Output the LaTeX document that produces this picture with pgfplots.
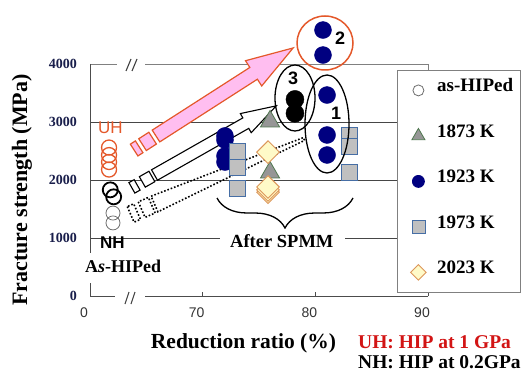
\documentclass[border=0pt]{standalone}
\usepackage{fontspec}
\setmainfont{Liberation Serif}
\setsansfont{Liberation Sans}
\usepackage{pgfplots}
\pgfplotsset{compat=1.18}
\usetikzlibrary{decorations.pathreplacing}

\definecolor{navy}{RGB}{0,0,128}
\definecolor{uhor}{RGB}{228,88,42}
\definecolor{pinkf}{RGB}{255,190,240}
\definecolor{trif}{RGB}{150,150,150}
\definecolor{trie}{RGB}{80,120,80}
\definecolor{sqf}{RGB}{192,192,192}
\definecolor{sqe}{RGB}{70,110,165}
\definecolor{dif}{RGB}{255,250,200}
\definecolor{die}{RGB}{220,150,90}
\definecolor{gcirc}{RGB}{110,110,110}
\definecolor{redtxt}{RGB}{210,20,20}
\definecolor{ytcol}{RGB}{25,30,75}
\definecolor{gridc}{RGB}{70,70,70}

\begin{document}
\begin{tikzpicture}
\path[use as bounding box] (0,0) rectangle (526pt,372pt);
% ---------- background: grid, frame, arrows (pixel frame) ----------
\begin{scope}[x=1pt,y=-1pt,yshift=372pt]
  \draw[gridc, line width=0.8pt] (90,122) -- (428,122);
  \draw[gridc, line width=0.8pt] (90,180) -- (428,180);
  \draw[gridc, line width=0.8pt] (90,238) -- (220,238) (345,238) -- (428,238);
  \draw[black!50, line width=0.8pt] (90,64) -- (117,64) (145,64) -- (428,64) -- (428,296);
  \draw[black!70, line width=0.9pt] (90,64) -- (90,253) (90,283) -- (90,296) -- (115,296) (145,296) -- (428,296);
  % break marks
  \draw[black!75, line width=1.1pt] (126,71) -- (131,59) (132,71) -- (137,59);
  \draw[black!75, line width=1.1pt] (125,304) -- (129,292) (131,304) -- (135,292);
  % pink striped arrow (UH)
  \begin{scope}[shift={(156,136)}, rotate=32.7]
    \draw[uhor, fill=pinkf, line width=1.2pt, line join=miter]
      (0,-7) -- (116,-7) -- (116,-15) -- (163,0) -- (116,15) -- (116,7) -- (0,7) -- cycle;
    \draw[uhor, fill=pinkf, line width=1.2pt] (-16,-7) rectangle (-4,7);
    \draw[uhor, fill=pinkf, line width=1.2pt] (-26,-7) rectangle (-20,7);
  \end{scope}
  % white striped arrow (NH)
  \begin{scope}[shift={(154.5,175)}, rotate=29.6]
    \draw[black, fill=white, line width=1.1pt, line join=miter]
      (0,-6) -- (105,-6) -- (105,-11) -- (140,0) -- (105,11) -- (105,6) -- (0,6) -- cycle;
    \draw[black, fill=white, line width=1.1pt] (-14,-6) rectangle (-3,6);
    \draw[black, fill=white, line width=1.1pt] (-26,-6) rectangle (-20,6);
  \end{scope}
  % dotted wedge
  \begin{scope}[shift={(154.5,204)}, rotate=23.5]
    \draw[black, line width=1.6pt, dash pattern=on 1.6pt off 1.9pt]
      (0,-8.5) -- (163,-1.5) -- (163,1.5) -- (0,8.5) -- cycle;
    \draw[black, line width=1.6pt, dash pattern=on 1.6pt off 1.9pt] (-14,-8.5) rectangle (-3,8.5);
    \draw[black, line width=1.6pt, dash pattern=on 1.6pt off 1.9pt] (-26,-8.5) rectangle (-19,8.5);
  \end{scope}
\end{scope}

% ---------- the axis with data ----------
\begin{axis}[
  at={(90pt,76pt)}, anchor=south west,
  scale only axis, width=338pt, height=232pt,
  xmin=60, xmax=90, ymin=0, ymax=4000,
  clip=false,
  axis line style={draw=none},
  tick align=inside,
  major tick length=4pt,
  xtick pos=left, ytick pos=left,
  xtick={60,70,80,90}, xticklabels={0,70,80,90},
  ytick={0,1000,2000,3000,4000},
  scaled y ticks=false,
  /pgf/number format/1000 sep={},
  /pgf/number format/assume math mode=true,
  x tick style={draw=black!70, line width=0.8pt},
  y tick style={draw=none},
  xticklabel style={font=\sffamily\fontsize{14}{14}\selectfont, text=black!80, inner sep=0pt, yshift=-12pt, xshift=-6pt},
  yticklabel style={font=\fontsize{14}{14}\selectfont\bfseries, text=ytcol, inner sep=0pt, anchor=east, xshift=-13pt},
  legend image code/.code={\path[draw=none,fill=none] (-14pt,0pt) (7pt,0pt);
     \draw[mark repeat=1,mark phase=1,#1] plot coordinates {(0pt,0pt)};},
  legend cell align=left,
  legend style={at={(axis description cs:0.9083,0.9741)}, anchor=north west,
     draw=black!50, line width=0.8pt, fill=white,
     inner xsep=7pt, inner ysep=11.5pt, row sep=28.5pt, column sep=11pt,
     font=\fontsize{19}{19}\selectfont\bfseries,
     nodes={inner sep=0pt, text height=10pt, text depth=7pt}},
]
% as-HIPed (NH, thin grey)
\addplot[only marks, mark=o, mark size=7pt, color=gcirc, line width=0.8pt,
   legend image post style={mark size=5.5pt}]
   coordinates {(62.04,1430) (62.04,1260)};
\addlegendentry{as-HIPed}
% 1873 K
\addplot[only marks, mark=triangle*, mark size=11pt,
   mark options={fill=trif, draw=trie, line width=0.8pt},
   legend image post style={mark size=7.5pt}]
   coordinates {(75.98,3010) (75.98,2130)};
\addlegendentry{1873 K}
% 1923 K
\addplot[only marks, mark=*, mark size=8.5pt,
   mark options={fill=navy, draw=navy},
   legend image post style={mark size=6pt}]
   coordinates {(71.98,2760) (71.98,2690) (71.98,2414) (71.98,2310)
                (81.04,3465) (81.04,2776) (81.04,2431)
                (80.68,4586) (80.68,4155)};
\addlegendentry{1923 K}
% 1973 K
\addplot[only marks, mark=square*, mark size=8pt,
   mark options={fill=sqf, draw=sqe, line width=0.8pt},
   legend image post style={mark size=6.5pt}]
   coordinates {(73.05,2490) (73.05,2210) (73.05,1850)
                (83.03,2767) (83.03,2586) (83.03,2129)};
\addlegendentry{1973 K}
% 2023 K
\addplot[only marks, mark=square*, mark size=8pt,
   mark options={rotate=45, fill=dif, draw=die, line width=0.9pt},
   legend image post style={mark size=5.5pt}]
   coordinates {(75.8,1790) (75.8,1830) (75.8,1880) (75.8,2480)};
\addlegendentry{2023 K}
% as-HIPed UH (red) and NH (black)
\addplot[forget plot, only marks, mark=o, mark size=7.5pt, color=uhor, line width=1.3pt]
   coordinates {(61.69,2560) (61.69,2430) (61.69,2310) (61.69,2180)};
\addplot[forget plot, only marks, mark=o, mark size=7.5pt, color=black, line width=1.8pt]
   coordinates {(61.8,1830) (62.1,1710)};
% group 3 (black)
\addplot[forget plot, only marks, mark=*, mark size=9pt, color=black]
   coordinates {(78.19,3390) (78.19,3150)};
\end{axis}

% ---------- foreground annotations ----------
\begin{scope}[x=1pt,y=-1pt,yshift=372pt]
  \draw[uhor, line width=1.5pt] (325,43) ellipse [x radius=28pt, y radius=27pt];
  \draw[black, line width=1.3pt] (295,98) ellipse [x radius=20pt, y radius=33pt];
  \draw[black, line width=1.3pt] (327,124) ellipse [x radius=22pt, y radius=49pt];
  \node[font=\sffamily\bfseries\fontsize{18}{18}\selectfont] at (340,38.5) {2};
  \node[font=\sffamily\bfseries\fontsize{18}{18}\selectfont] at (293,78.5) {3};
  \node[font=\sffamily\bfseries\fontsize{18}{18}\selectfont] at (336,113.5) {1};
  \draw[black, line width=1.3pt, decorate, decoration={brace, amplitude=30pt}] (353,198) -- (217,198);
  \node[anchor=base west, inner sep=0pt, font=\bfseries\fontsize{18.5}{18.5}\selectfont] at (230,247) {After SPMM};
  \node[anchor=base west, inner sep=0pt, text=uhor, font=\sffamily\fontsize{17}{17}\selectfont] at (98,133.5) {UH};
  \node[anchor=base west, inner sep=0pt, font=\sffamily\bfseries\fontsize{17}{17}\selectfont] at (100,248) {NH};
  \node[anchor=base west, inner sep=0pt, font=\bfseries\fontsize{18}{18}\selectfont] at (85,272) {A\textit{s}-HIPed};
  \node[anchor=base, inner sep=0pt, font=\bfseries\fontsize{21.5}{21.5}\selectfont] at (243.5,348.5) {Reduction ratio (\%)};
  \node[anchor=base west, inner sep=0pt, text=redtxt, font=\bfseries\fontsize{19.5}{19.5}\selectfont] at (358,348) {UH: HIP at 1 GPa};
  \node[anchor=base west, inner sep=0pt, font=\bfseries\fontsize{19.5}{19.5}\selectfont] at (358,368) {NH: HIP at 0.2GPa};
  \node[anchor=base, rotate=90, inner sep=0pt, font=\bfseries\fontsize{22}{22}\selectfont] at (27,190) {Fracture strength (MPa)};
\end{scope}
\end{tikzpicture}
\end{document}
